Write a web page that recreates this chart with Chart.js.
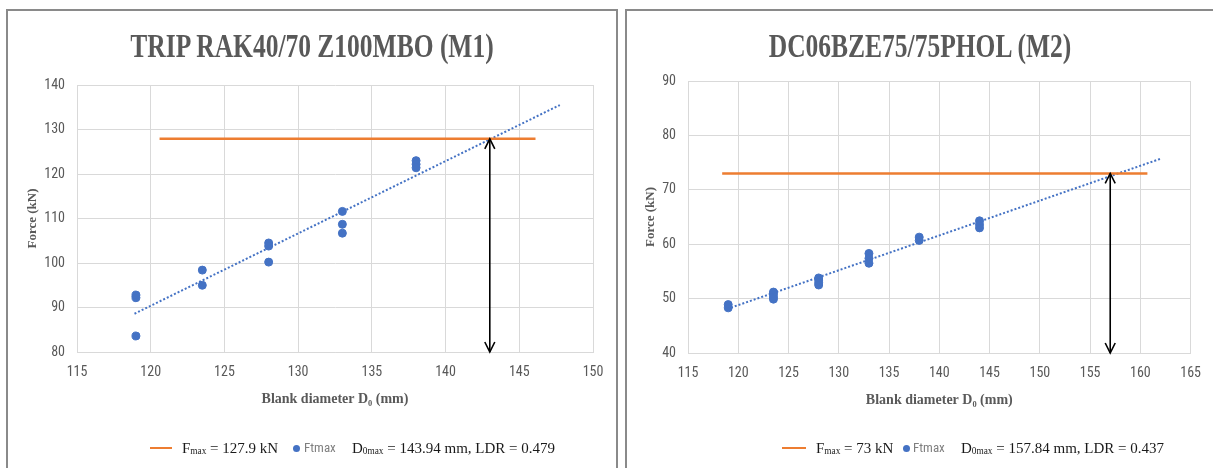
<!DOCTYPE html>
<html>
<head>
<meta charset="utf-8">
<script src="https://cdn.jsdelivr.net/npm/chart.js@4.4.1/dist/chart.umd.min.js"></script>
<style>
  body { margin: 0; width: 1213px; height: 468px; overflow: hidden; background: #fff; position: relative; }
  .panel { position: absolute; top: 9px; height: 480px; border: 2px solid #8a8a8a; box-sizing: border-box; }
  .cv { position: absolute; top: 11px; }
  .title { position: absolute; top: 26px; font-family: 'Liberation Serif', serif; font-weight: bold; font-size: 34px;
           color: #595959; white-space: nowrap; transform: translateX(-50%) scaleX(0.75); line-height: 40px; }
  .leg { position: absolute; top: 439px; font-family: 'Liberation Serif', serif; font-size: 15px; color: #1a1a1a;
         white-space: nowrap; line-height: 18px; }
  .leg sub { font-size: 62%; vertical-align: -0.15em; }
  .sw { position: absolute; top: 447px; height: 2px; background: #ED7D31; }
  .dot { position: absolute; top: 445px; width: 7px; height: 7px; border-radius: 50%; background: #4472C4; }
  .ft { position: absolute; top: 440px; font-family: 'Liberation Sans Narrow', 'Roboto Condensed', sans-serif; font-size: 13px; color: #7f7f7f; line-height: 16px; }
</style>
</head>
<body>

<div class="panel" style="left:6px; width:612px;"></div>
<div class="panel" style="left:625px; width:600px;"></div>

<canvas id="c1" class="cv" style="left:8px;"></canvas>
<canvas id="c2" class="cv" style="left:627px;"></canvas>

<div class="title" style="left:312px;">TRIP RAK40/70 Z100MBO (M1)</div>
<div class="title" style="left:920px;">DC06BZE75/75PHOL (M2)</div>

<!-- legende M1 -->
<div class="sw" style="left:150px; width:22px;"></div>
<div class="leg" style="left:182px;">F<sub>max</sub> = 127.9 kN</div>
<div class="dot" style="left:293px;"></div>
<div class="ft" style="left:304px;">Ftmax</div>
<div class="leg" style="left:352px;">D<sub>0max</sub> = 143.94 mm, LDR = 0.479</div>

<!-- legende M2 -->
<div class="sw" style="left:782px; width:24px;"></div>
<div class="leg" style="left:816px;">F<sub>max</sub> = 73 kN</div>
<div class="dot" style="left:903px;"></div>
<div class="ft" style="left:913px;">Ftmax</div>
<div class="leg" style="left:961px;">D<sub>0max</sub> = 157.84 mm, LDR = 0.437</div>

<script>
// M1 - TRIP RAK40/70 Z100MBO
const m1Dia   = [119, 119, 119, 123.5, 123.5, 128, 128, 128, 133, 133, 133, 138, 138, 138];
const m1Force = [92.2, 92.8, 83.6, 98.4, 95.0, 104.5, 103.8, 100.2, 111.6, 108.7, 106.7, 123.0, 122.2, 121.4];
const m1TrendX = [118.9, 147.75];
const m1TrendY = [88.6, 135.5];
const m1FmaxX = [120.6, 146.1];
const m1Fmax = 127.9;
const m1D0max = 143.0;   // arrow position as drawn
const m1XTicks = [115, 150, 5];
const m1YTicks = [80, 140, 10];

// M2 - DC06BZE75/75PHOL
const m2Dia   = [119, 119, 123.5, 123.5, 123.5, 123.5, 128, 128, 128, 128, 133, 133, 133, 138, 138, 144, 144, 144];
const m2Force = [48.3, 48.9, 51.2, 50.8, 50.3, 49.9, 53.8, 53.4, 52.9, 52.5, 58.3, 57.4, 56.5, 61.3, 60.7, 64.3, 63.6, 63.0];
const m2TrendX = [118.9, 162.0];
const m2TrendY = [48.1, 75.7];
const m2FmaxX = [118.4, 160.7];
const m2Fmax = 73;
const m2D0max = 157.0;
const m2XTicks = [115, 165, 5];
const m2YTicks = [40, 90, 10];

const blue = '#4472C4';
const orange = '#ED7D31';
const gridCol = '#d9d9d9';
const tickFont = { family: "'Liberation Sans Narrow', 'Roboto Condensed', sans-serif", size: 14 };
const axisFont = { family: "'Liberation Serif', serif", size: 13, weight: 'bold' };

// pfeilspitzen an beiden enden
const arrowHeads = {
  id: 'arrowHeads',
  afterDatasetsDraw(chart) {
    const ctx = chart.ctx;
    chart.data.datasets.forEach((ds, i) => {
      if (!ds.arrow) return;
      const pts = chart.getDatasetMeta(i).data;
      ctx.save();
      ctx.strokeStyle = ds.borderColor;
      ctx.lineWidth = ds.borderWidth;
      [[pts[0], pts[1]], [pts[1], pts[0]]].forEach(([tip, from]) => {
        const dir = Math.sign(from.y - tip.y);
        ctx.beginPath();
        ctx.moveTo(tip.x - 5, tip.y + dir * 10);
        ctx.lineTo(tip.x, tip.y);
        ctx.lineTo(tip.x + 5, tip.y + dir * 10);
        ctx.stroke();
      });
      ctx.restore();
    });
  }
};

function pairs(xs, ys) {
  return xs.map((x, i) => ({ x: x, y: ys[i] }));
}

function makeChart(id, w, dia, force, trendX, trendY, fmaxX, fmax, d0, xt, yt, lay) {
  const cv = document.getElementById(id);
  cv.width = w; cv.height = 457;
  cv.style.width = w + 'px'; cv.style.height = '457px';

  return new Chart(cv, {
    type: 'scatter',
    data: {
      datasets: [
        { label: 'Ftmax', data: pairs(dia, force), backgroundColor: blue, borderColor: blue,
          pointRadius: 4, pointHoverRadius: 4, order: 4 },
        { label: 'trend', data: pairs(trendX, trendY), showLine: true, borderColor: blue, borderWidth: 2,
          borderDash: [2, 2], pointRadius: 0, order: 3 },
        { label: 'Fmax', data: pairs(fmaxX, [fmax, fmax]), showLine: true, borderColor: orange, borderWidth: 2.5,
          pointRadius: 0, order: 2 },
        { label: 'D0max', data: pairs([d0, d0], [fmax, yt[0]]), showLine: true, borderColor: '#000', borderWidth: 1.6,
          pointRadius: 0, arrow: true, order: 1, clip: false }
      ]
    },
    options: {
      responsive: false,
      animation: false,
      layout: { padding: { top: lay.top, right: lay.right, bottom: lay.bottom, left: 0 } },
      plugins: { legend: { display: false }, tooltip: { enabled: false } },
      scales: {
        x: {
          min: xt[0], max: xt[1],
          ticks: { stepSize: xt[2], color: '#595959', font: tickFont, padding: 12 },
          grid: { color: gridCol, drawTicks: false },
          border: { color: gridCol },
          title: { display: true, text: 'Blank diameter D₀ (mm)', color: '#595959',
                   font: { family: "'Liberation Serif', serif", size: 14, weight: 'bold' }, padding: { top: 0, bottom: 4 } },
          afterFit: s => { s.height = 60; }
        },
        y: {
          min: yt[0], max: yt[1],
          ticks: { stepSize: yt[2], color: '#595959', font: tickFont, padding: lay.tickPad },
          grid: { color: gridCol, drawTicks: false },
          border: { color: gridCol },
          title: { display: true, text: 'Force (kN)', color: '#595959', font: axisFont, padding: { top: lay.titlePad, bottom: 0 } },
          afterFit: s => { s.width = lay.yw; }
        }
      }
    },
    plugins: [arrowHeads]
  });
}

makeChart('c1', 608, m1Dia, m1Force, m1TrendX, m1TrendY, m1FmaxX, m1Fmax, m1D0max, m1XTicks, m1YTicks,
  { top: 74, right: 23, bottom: 56, yw: 69, tickPad: 12, titlePad: 17 });
makeChart('c2', 586, m2Dia, m2Force, m2TrendX, m2TrendY, m2FmaxX, m2Fmax, m2D0max, m2XTicks, m2YTicks,
  { top: 70, right: 19, bottom: 55, yw: 61, tickPad: 12, titlePad: 16 });
</script>
</body>
</html>
